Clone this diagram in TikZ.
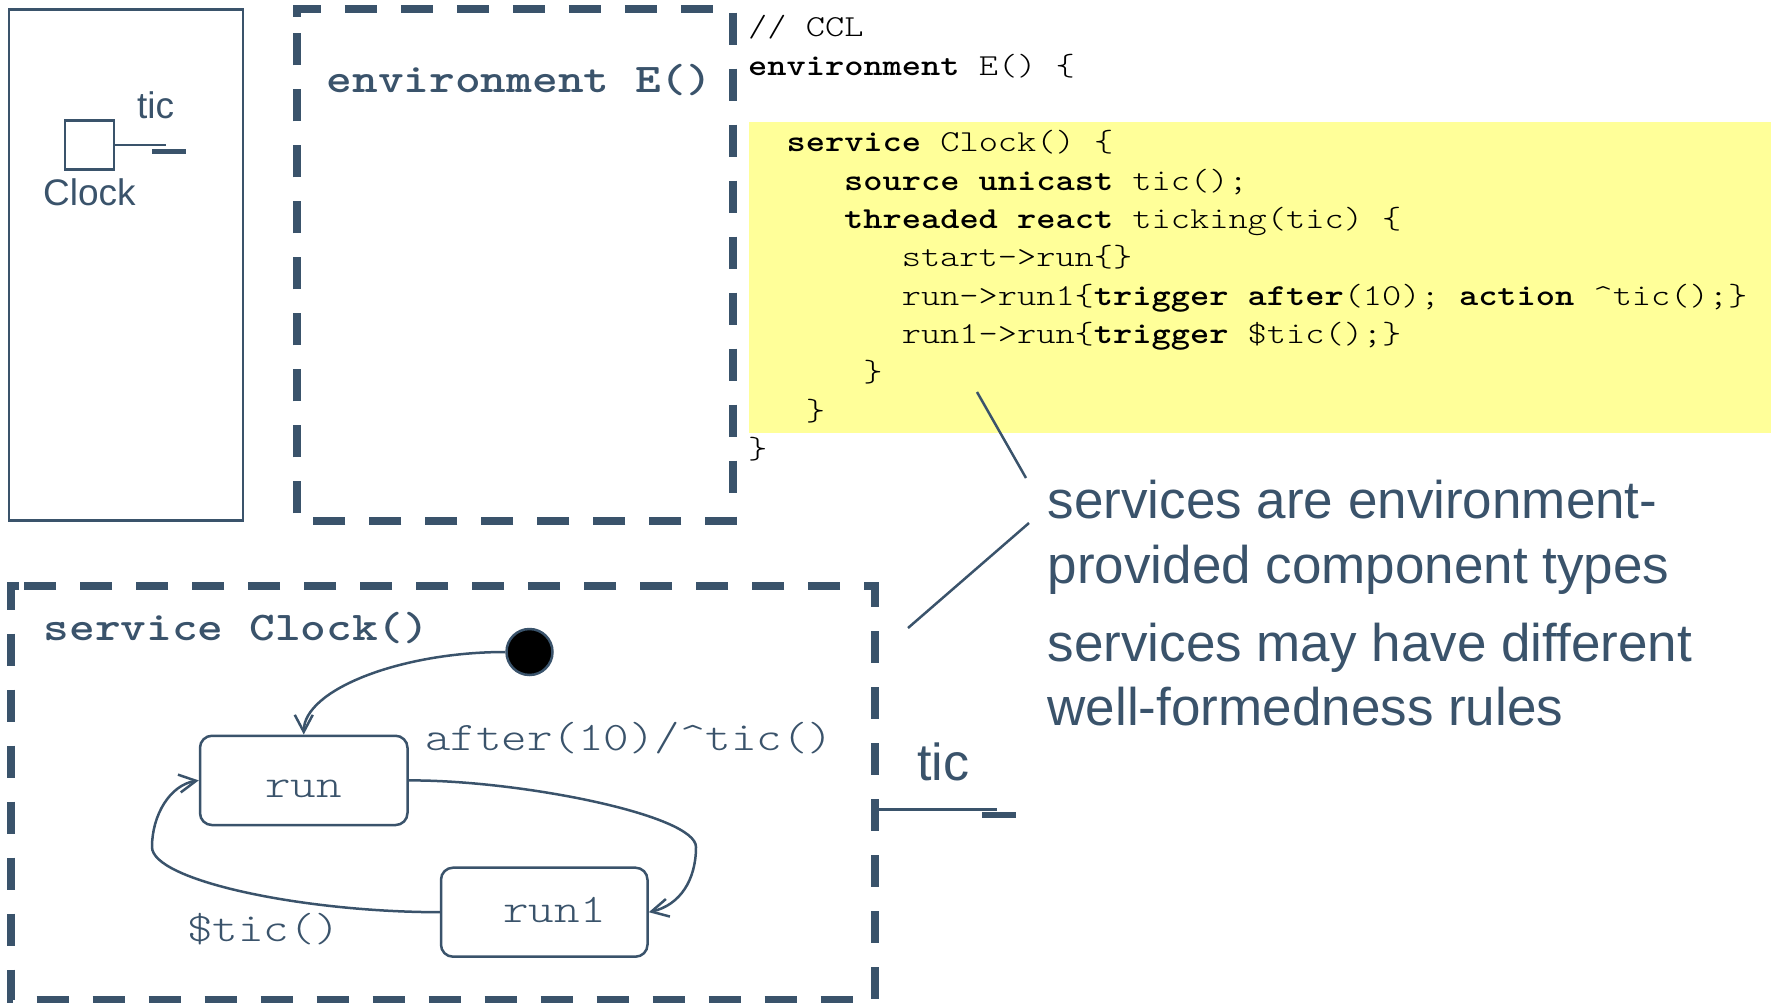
\documentclass[tikz,border=0pt]{standalone}
\usepackage{fontspec}
\setmainfont{Liberation Sans}
\newfontfamily\monofont{lmmonolt10-regular.otf}[BoldFont=lmmonolt10-bold.otf, FakeStretch=1.2]
\usetikzlibrary{arrows.meta}
\definecolor{slate}{RGB}{58,83,107}
\definecolor{hilite}{RGB}{255,255,153}

\begin{document}
\begin{tikzpicture}[x=1pt,y=-1pt,
  code/.style={anchor=base west, inner sep=0pt, text=black,
    font=\monofont\fontsize{30.5}{38}\selectfont},
  sanstext/.style={anchor=base west, inner sep=0pt, text=slate},
  monolbl/.style={inner sep=0pt, text=slate,
    font=\monofont\fontsize{40.5}{48}\selectfont},
  boxtitle/.style={anchor=base west, inner sep=0pt, text=slate,
    font=\monofont\bfseries\fontsize{40.8}{48}\selectfont},
  dashbox/.style={draw=slate, line width=8pt, dash pattern=on 32pt off 24pt},
  state/.style={draw=slate, line width=2.5pt, rounded corners=12pt,
    inner sep=0pt},
  conn/.style={draw=slate, line width=2.5pt,
    -{Straight Barb[length=17pt,width=18pt]}},
  thin/.style={draw=slate, line width=2.5pt},
]
\useasboundingbox (0,0) rectangle (1771,1003);

% ---------- component view ----------
\draw[thin] (9,9.3) rectangle (243,520.7);
\node[draw=slate, line width=2.5pt, minimum size=49pt, inner sep=0pt]
  (clocksq) at (89.5,145) {};
\coordinate (clockport) at (166,145);
\draw[slate, line width=2.5pt] (clocksq.east) -- (clockport);
\draw[slate, line width=5pt] (152,151.5) -- (186,151.5);
\node[sanstext, font=\fontsize{37}{42}\selectfont] (clocktic) at (137,118.8) {tic};
\node[sanstext, font=\fontsize{37}{42}\selectfont] (clockname) at (43,205) {Clock};

% ---------- environment frame ----------
\draw[dashbox] (297,17) -- (297,8.8) -- (733,8.8) -- (733,521) -- (297,521) -- cycle;
\node[boxtitle] (envtitle) at (326.5,93) {environment E()};

% ---------- code listing ----------
\fill[hilite] (748.5,122) rectangle (1771,433);
\node[code] (c0)  at (748,37)    {// CCL};
\node[code] (c1)  at (748,75.3)  {\textbf{environment} E() \{};
\node[code] (c2)  at (786.4,152) {\textbf{service} Clock() \{};
\node[code] (c3)  at (844,190.3) {\textbf{source unicast} tic();};
\node[code] (c4)  at (844,228.6) {\textbf{threaded react} ticking(tic) \{};
\node[code] (c5)  at (901.6,266.9) {start->run\{\}};
\node[code] (c6)  at (901.6,305.2) {run->run1\{\textbf{trigger after}(10); \textbf{action} \textasciicircum tic();\}};
\node[code] (c7)  at (901.6,343.5) {run1->run\{\textbf{trigger} \$tic();\}};
\node[code] (c8)  at (863.2,381.8) {\}};
\node[code] (c9)  at (805.6,420.1) {\}};
\node[code] (c10) at (748,458.4)   {\}};

% ---------- callout ----------
\coordinate (callA1) at (977,392);
\coordinate (callA2) at (1026,478);
\coordinate (callB1) at (1029,523);
\coordinate (callB2) at (908,628);
\draw[thin] (callA1) -- (callA2);
\draw[thin] (callB1) -- (callB2);
\node[sanstext, font=\fontsize{53}{60}\selectfont] (note1) at (1047.5,518) {services are environment-};
\node[sanstext, font=\fontsize{53}{60}\selectfont] (note2) at (1047.5,583) {provided component types};
\node[sanstext, font=\fontsize{53}{60}\selectfont] (note3) at (1047.5,661) {services may have different};
\node[sanstext, font=\fontsize{53}{60}\selectfont] (note4) at (1047.5,725) {well-formedness rules};

% ---------- service state machine ----------
\draw[dashbox] (19,585.5) -- (11,585.5) -- (11,1000) -- (875,1000) -- (875,585.5) -- cycle;
\node[boxtitle] (svctitle) at (43.5,640) {service Clock()};

\node[draw=slate, fill=black, line width=2.5pt, circle, minimum size=46pt,
  inner sep=0pt] (init) at (529.5,652) {};
\node[state, minimum width=207.5pt, minimum height=89.3pt] (run) at (303.75,780.4) {};
\node[state, minimum width=206.5pt, minimum height=89pt] (run1) at (544.25,912.2) {};
\node[monolbl, anchor=base] (runlbl) at (303.75,797.7) {run};
\node[monolbl, anchor=base] (run1lbl) at (554.5,922) {run1};

\draw[conn] (init.west) .. controls (400,652) and (303.75,690) .. (run.north);
\draw[conn] (run.east) .. controls (520,780) and (696,815) .. (696,847)
  .. controls (696,880) and (680,905) .. (run1.east);
\draw[conn] (run1.west) .. controls (300,912) and (152,880) .. (152,847)
  .. controls (152,815) and (170,785) .. (run.west);

\node[monolbl, anchor=base west] (afterlbl) at (425,750) {after(10)/\textasciicircum tic()};
\node[monolbl, anchor=base west] (ticlbl) at (187,941.7) {\$tic()};

% ---------- service port ----------
\coordinate (svcport) at (997,809);
\draw[slate, line width=3pt] (875,809) -- (svcport);
\draw[slate, line width=5.5pt] (982,815) -- (1016,815);
\node[sanstext, font=\fontsize{52}{58}\selectfont] (porttic) at (917,780) {tic};
\end{tikzpicture}
\end{document}
